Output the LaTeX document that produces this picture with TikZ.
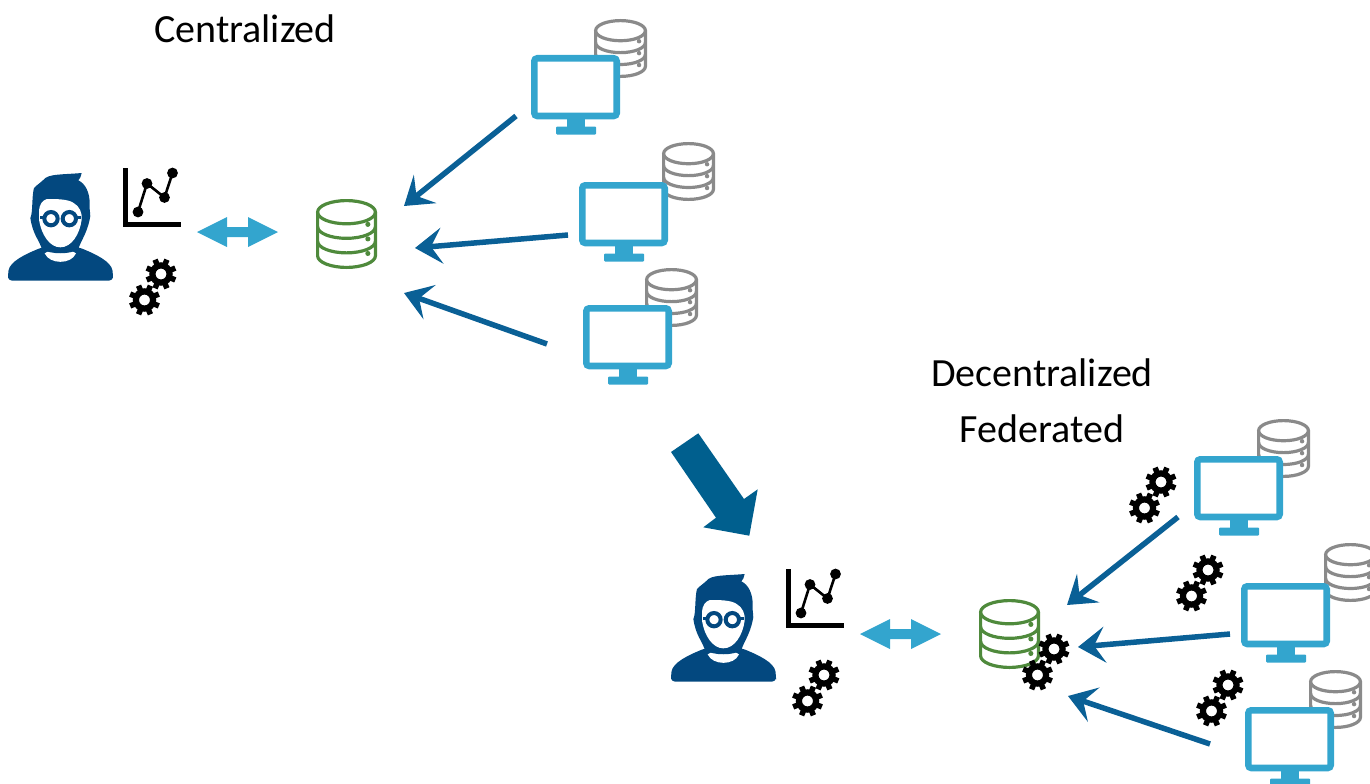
\documentclass[tikz,border=0pt]{standalone}
\usepackage{fontspec}
\setmainfont{Carlito}
\usetikzlibrary{arrows.meta}
\definecolor{navy}{HTML}{03487F}
\definecolor{arrowblue}{HTML}{0A6096}
\definecolor{bigblue}{HTML}{005F8E}
\definecolor{skyb}{HTML}{33A5CE}
\definecolor{dbgreen}{HTML}{4F8A3C}
\definecolor{dbgray}{HTML}{8A8A8A}
\tikzset{
  x=1pt,y=-1pt,
  flow/.style={draw=arrowblue,line width=5.5pt,-{Stealth[length=27pt,width=36pt,inset=11pt]},shorten >=0pt},
  label text/.style={font=\fontsize{40}{48}\selectfont,text=black,inner sep=0pt,align=center},
  pics/gear/.style={code={
    \foreach \a in {0,45,...,315}{\draw[black,line width=5.5pt] (0,0)++(\a+22.5:9.5) -- ++(\a+22.5:6);}
    \draw[black,line width=6.2pt] (0,0) circle[radius=8.6];
  }},
  pics/gears/.style={code={
    \pic at (0,0) {gear};
    \pic at (-16.5,26) {gear};
  }},
  pics/dbicon/.style n args={3}{code={
    \def\W{#1}\def\H{#2}
    \pgfmathsetmacro\rx{\W/2-1.6}
    \pgfmathsetmacro\ry{\W*0.19}
    \pgfmathsetmacro\band{(\H-2*\ry-3.2)/3}
    \begin{scope}[draw=#3,line width=3.2pt]
      \draw (1.6,1.6+\ry) -- (1.6,\H-1.6-\ry) arc[start angle=180,end angle=360,x radius=\rx,y radius=-\ry]
        -- (\W-1.6,1.6+\ry);
      \draw (\W/2,1.6+\ry) ellipse[x radius=\rx,y radius=\ry];
      \foreach \i in {1,2}{
        \draw (1.6,1.6+\ry+\i*\band) arc[start angle=180,end angle=360,x radius=\rx,y radius=-\ry];
      }
      \foreach \i in {0,1,2}{
        \fill[#3] (\W-0.15*\W,1.6+\ry+\i*\band+\ry*1.05) circle[radius=0.042*\W];
      }
    \end{scope}
  }},
  pics/monitor/.style={code={
    \fill[skyb] (36,62) rectangle (54,73);
    \fill[skyb,rounded corners=1pt] (25,71.5) rectangle (65,79.5);
    \draw[skyb,fill=white,line width=6.6pt,rounded corners=3pt] (3.3,3.3) rectangle (85.7,61);
  }},
  pics/doublearrow/.style={code={
    \fill[skyb] (0,15) -- (30,0) -- (30,10) -- (51,10) -- (51,0) -- (81,15) -- (51,30) -- (51,20) -- (30,20) -- (30,30) -- cycle;
  }},
  pics/chart/.style={code={
    \draw[black,line width=4.6pt] (2.5,0) -- (2.5,56.5) -- (58,56.5);
    \draw[black,line width=2.6pt] (15,44) -- (24,15.5) -- (41.5,29.5) -- (49.5,5);
    \foreach \p in {(15,44),(24,15.5),(41.5,29.5),(49.5,5)}{\fill[black] \p circle[radius=5.4];}
  }},
  pics/person/.style={code={
    \begin{scope}[scale=1/3,shift={(-25,-40)}]
      \fill[navy,rounded corners=4pt] (25,363) -- (25,345) .. controls (30,305) and (80,282) .. (130,262) -- (235,262) .. controls (285,282) and (335,305) .. (340,345) -- (340,363) -- cycle;
      \fill[white] (135,281) .. controls (150,268) and (160,280) .. (182,280) .. controls (205,280) and (215,268) .. (229,281) .. controls (215,315) and (150,315) .. (135,281) -- cycle;
      \fill[navy] (127,268) .. controls (115,235) and (100,225) .. (92,175) .. controls (100,160) and (96,110) .. (103,85) .. controls (118,70) and (125,68) .. (132,60) .. controls (145,42) and (190,45) .. (246,40) .. controls (245,50) and (240,58) .. (236,62) .. controls (258,72) and (270,100) .. (270,130) .. controls (268,155) and (275,165) .. (270,180) .. controls (260,225) and (245,240) .. (236,268) .. controls (215,285) and (150,285) .. (127,268) -- cycle;
      \fill[white] (118,160) .. controls (118,130) and (130,122) .. (142,118) .. controls (170,118) and (205,118) .. (222,130) .. controls (240,140) and (248,160) .. (246,180) .. controls (240,225) and (215,263) .. (182,263) .. controls (150,263) and (125,225) .. (118,180) -- cycle;
      \draw[navy,line width=4pt,fill=white] (154,177) circle[radius=20];
      \draw[navy,line width=4pt,fill=white] (209,177) circle[radius=20];
      \draw[navy,line width=3pt] (134,172) -- (122,172);
      \draw[navy,line width=3pt] (229,172) -- (243,172);
    \end{scope}
  }},
}
\begin{document}
\begin{tikzpicture}
\useasboundingbox (0,0) rectangle (1370,784);
\clip (0,0) rectangle (1370,784);
% left group
\pic at (8,173) {person};
\pic at (123,168) {chart};
\pic at (161,274) {gears};
\pic at (197,217) {doublearrow};
\pic at (316,199) {dbicon={61}{70}{dbgreen}};
\pic at (594,19) {dbicon={53}{59}{dbgray}};
\pic at (531,55) {monitor};
\pic at (662,142) {dbicon={53}{59}{dbgray}};
\pic at (579,182) {monitor};
\pic at (645,268) {dbicon={53}{59}{dbgray}};
\pic at (583,305) {monitor};
\node[label text] (central) at (245,29) {Centralized};
\coordinate (a1s) at (516,116); \coordinate (a1e) at (404,206);
\coordinate (a2s) at (568,235); \coordinate (a2e) at (415,248);
\coordinate (a3s) at (547,344); \coordinate (a3e) at (404,293);
\draw[flow] (a1s) -- (a1e);
\draw[flow] (a2s) -- (a2e);
\draw[flow] (a3s) -- (a3e);
% big arrow
\fill[bigblue] (698.3,433.3) -- (671,452) -- (716,517.7) -- (703.3,527.3) -- (749.3,535.7) -- (757.7,489.3) -- (744,499) -- cycle;
% right group
\node[label text] (decentral) at (1042,373) {Decentralized};
\node[label text] (federated) at (1042,429) {Federated};
\pic at (671,574) {person};
\pic at (786,569) {chart};
\pic at (824,675) {gears};
\pic at (860,619) {doublearrow};
\pic at (979,599) {dbicon={61}{70}{dbgreen}};
\pic at (1054,649) {gears};
\pic at (1257,419) {dbicon={53}{59}{dbgray}};
\pic at (1194,456) {monitor};
\pic at (1161,482) {gears};
\pic at (1324,543) {dbicon={53}{59}{dbgray}};
\pic at (1241,583) {monitor};
\pic at (1208,570) {gears};
\pic at (1309,670) {dbicon={53}{59}{dbgray}};
\pic at (1245,707) {monitor};
\pic at (1228,685) {gears};
\coordinate (b1s) at (1178,517); \coordinate (b1e) at (1067,605);
\coordinate (b2s) at (1230,634); \coordinate (b2e) at (1078,647);
\coordinate (b3s) at (1210,744); \coordinate (b3e) at (1068,696);
\draw[flow] (b1s) -- (b1e);
\draw[flow] (b2s) -- (b2e);
\draw[flow] (b3s) -- (b3e);
\end{tikzpicture}
\end{document}
